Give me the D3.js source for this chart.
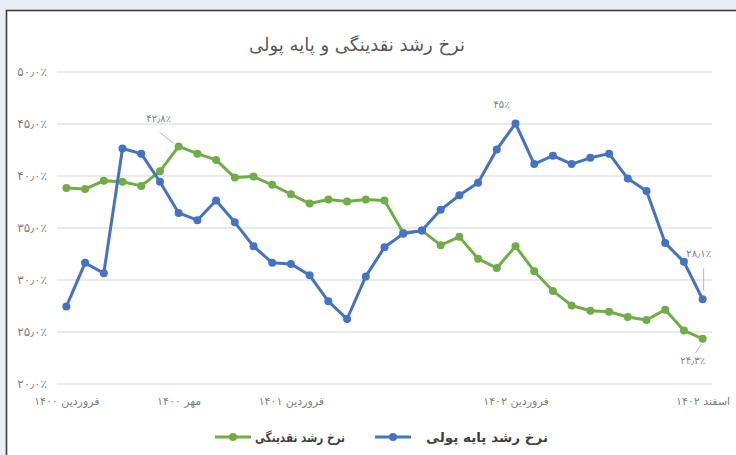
<!DOCTYPE html>
<html>
<head>
<meta charset="utf-8">
<script src="https://cdn.jsdelivr.net/npm/d3@7"></script>
<style>
  body { margin: 0; background: #e9eef4; }
  svg { display: block; font-family: "DejaVu Sans", sans-serif; }
</style>
</head>
<body>
<div class="svg-container"></div>
<script>
// monthly growth rates, Farvardin 1400 .. Esfand 1402 (percent)
const liquidity = [38.8, 38.7, 39.5, 39.4, 39.0, 40.4, 42.8, 42.1, 41.5, 39.8,
  39.9, 39.1, 38.2, 37.3, 37.7, 37.5, 37.7, 37.6, 34.5, 34.7,
  33.3, 34.1, 32.0, 31.1, 33.2, 30.8, 28.9, 27.5, 27.0, 26.9,
  26.4, 26.1, 27.1, 25.1, 24.3];
const monetaryBase = [27.4, 31.6, 30.6, 42.6, 42.1, 39.4, 36.4, 35.7, 37.6, 35.5,
  33.2, 31.6, 31.5, 30.4, 27.9, 26.2, 30.3, 33.1, 34.4, 34.7,
  36.7, 38.1, 39.3, 42.5, 45.0, 41.1, 41.9, 41.1, 41.7, 42.1,
  39.7, 38.5, 33.5, 31.7, 28.1];
const tickIndex = [0, 6, 12, 24, 34];
const tickText = ['فروردین ۱۴۰۰', 'مهر ۱۴۰۰', 'فروردین ۱۴۰۱', 'فروردین ۱۴۰۲', 'اسفند ۱۴۰۲'];
const yTicks = [20, 25, 30, 35, 40, 45, 50];
const seriesNames = ['نرخ رشد نقدینگی', 'نرخ رشد پایه پولی'];
const title = 'نرخ رشد نقدینگی و پایه پولی';

const width = 736;
const height = 455;
const margin = { left: 57, right: 24, top: 71.5, bottom: 71.5 };

const toFa = s => String(s).replace(/\d/g, d => '۰۱۲۳۴۵۶۷۸۹'[d]).replace('.', '٫').replace('%', '٪');

const svg = d3.select('.svg-container')
  .append('svg')
  .attr('width', width)
  .attr('height', height);

// chart frame
svg.append('rect')
  .attr('x', 6.5)
  .attr('y', 10.5)
  .attr('width', width)
  .attr('height', height)
  .attr('fill', '#fff')
  .attr('stroke', '#3d3d3d')
  .attr('stroke-width', 1.6);

const xScale = d3.scalePoint()
  .domain(d3.range(liquidity.length))
  .range([margin.left, width - margin.right])
  .padding(0.5);

const yScale = d3.scaleLinear()
  .domain([20, 50])
  .range([height - margin.bottom, margin.top]);

// y axis with gridlines
const yAxis = d3.axisLeft(yScale)
  .tickValues(yTicks)
  .tickSize(-(width - margin.left - margin.right))
  .tickPadding(10)
  .tickFormat(d => toFa(d.toFixed(1) + '%'));

const yG = svg.append('g')
  .attr('transform', `translate(${margin.left}, 0)`)
  .call(yAxis);
yG.select('.domain').remove();
yG.selectAll('line').attr('stroke', '#e3e3e3').attr('stroke-width', 1.5);
yG.selectAll('text')
  .attr('fill', '#7f7f7f')
  .style('font-size', '12px')
  .style('font-family', '"DejaVu Sans", sans-serif');

// x axis labels
const xAxis = d3.axisBottom(xScale)
  .tickValues(tickIndex)
  .tickSize(0)
  .tickPadding(14)
  .tickFormat(d => tickText[tickIndex.indexOf(d)]);

const xG = svg.append('g')
  .attr('transform', `translate(0, ${height - margin.bottom})`)
  .call(xAxis);
xG.select('.domain').remove();
xG.selectAll('text')
  .attr('fill', '#7f7f7f')
  .attr('direction', 'rtl')
  .style('font-size', '11px')
  .style('font-family', '"DejaVu Sans", sans-serif');

// title
svg.append('text')
  .attr('x', 357)
  .attr('y', 51)
  .attr('text-anchor', 'middle')
  .attr('direction', 'rtl')
  .attr('fill', '#595959')
  .style('font-size', '18px')
  .text(title);

const line = d3.line()
  .x((d, i) => xScale(i))
  .y(d => yScale(d));

const series = [
  { name: seriesNames[0], values: liquidity, color: '#70ad47' },
  { name: seriesNames[1], values: monetaryBase, color: '#4472c4' }
];

series.forEach(s => {
  svg.append('path')
    .datum(s.values)
    .attr('fill', 'none')
    .attr('stroke', s.color)
    .attr('stroke-width', 3)
    .attr('stroke-linejoin', 'round')
    .attr('d', line);

  svg.append('g')
    .selectAll('circle')
    .data(s.values)
    .enter()
    .append('circle')
    .attr('cx', (d, i) => xScale(i))
    .attr('cy', d => yScale(d))
    .attr('r', 4)
    .attr('fill', s.color);
});

// data labels with leader lines
const notes = [
  { values: liquidity, i: 6, dx: -20, dy: -24, lx1: -19, ly1: -14, lx2: -5, ly2: -3 },
  { values: monetaryBase, i: 24, dx: -14, dy: -16 },
  { values: monetaryBase, i: 34, dx: -4, dy: -42, lx1: 1, ly1: -31, lx2: 1, ly2: -9 },
  { values: liquidity, i: 34, dx: -10, dy: 25, lx1: -1, ly1: 5, lx2: -7, ly2: 14 }
];

notes.forEach(n => {
  const x = xScale(n.i);
  const y = yScale(n.values[n.i]);
  const v = n.values[n.i];
  svg.append('text')
    .attr('x', x + n.dx)
    .attr('y', y + n.dy)
    .attr('text-anchor', 'middle')
    .attr('fill', '#7f7f7f')
    .style('font-size', '10px')
    .text(toFa((v % 1 === 0 ? v.toFixed(0) : v.toFixed(1)) + '%'));
  if (n.lx1 !== undefined) {
    svg.append('line')
      .attr('x1', x + n.lx1).attr('y1', y + n.ly1)
      .attr('x2', x + n.lx2).attr('y2', y + n.ly2)
      .attr('stroke', '#a6a6a6')
      .attr('stroke-width', 0.8);
  }
});

// legend
const legendItems = [
  { s: series[0], x: 215, textX: 255, textW: 90 },
  { s: series[1], x: 375, textX: 426, textW: 122 }
];

legendItems.forEach(l => {
  const g = svg.append('g').attr('transform', `translate(${l.x}, 437)`);
  g.append('line')
    .attr('x1', 0).attr('x2', 36)
    .attr('stroke', l.s.color)
    .attr('stroke-width', 3);
  g.append('circle')
    .attr('cx', 18)
    .attr('r', 4)
    .attr('fill', l.s.color);
  svg.append('text')
    .attr('x', l.textX + l.textW)
    .attr('y', 442)
    .attr('direction', 'rtl')
    .attr('text-anchor', 'start')
    .attr('textLength', l.textW)
    .attr('lengthAdjust', 'spacingAndGlyphs')
    .attr('fill', '#404040')
    .style('font-size', '13px')
    .style('font-weight', 'bold')
    .text(l.s.name);
});
</script>
</body>
</html>
